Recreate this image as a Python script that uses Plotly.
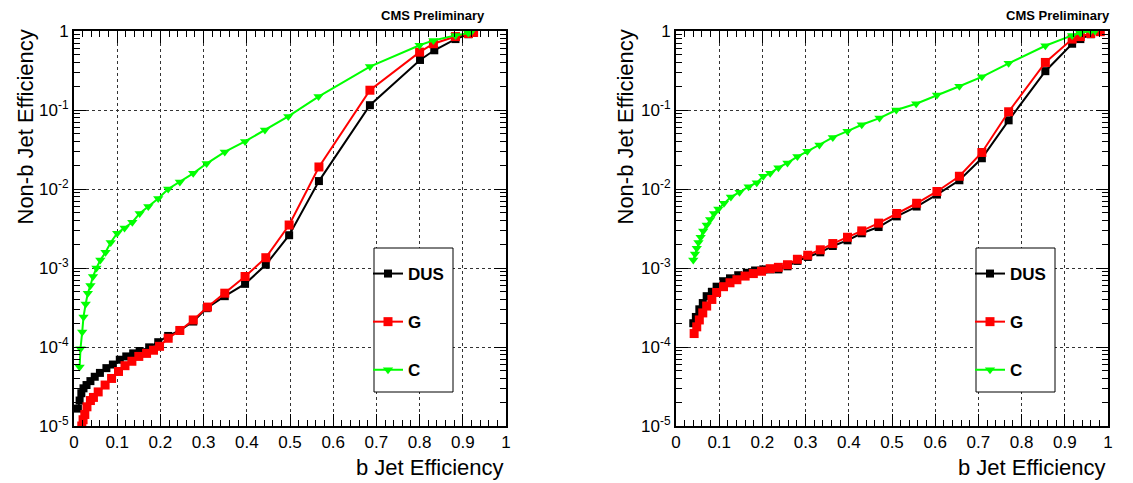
import plotly.graph_objects as go

# ---------------- data: left panel ----------------
L_dus_x = [0.009, 0.013, 0.017, 0.022, 0.029, 0.038, 0.048, 0.060, 0.075, 0.090, 0.106, 0.121, 0.137, 0.152, 0.174, 0.195,
           0.218, 0.245, 0.276, 0.307, 0.349, 0.396, 0.444, 0.498, 0.567, 0.685, 0.801, 0.834, 0.883, 0.913, 0.925]
L_dus_y = [1.66e-5, 2.1e-5, 2.6e-5, 3.0e-5, 3.3e-5, 3.7e-5, 4.2e-5, 4.7e-5, 5.4e-5, 6.0e-5, 6.9e-5, 7.6e-5, 8.3e-5, 8.9e-5, 9.9e-5, 1.15e-4,
           1.38e-4, 1.62e-4, 2.1e-4, 3.1e-4, 4.4e-4, 6.3e-4, 1.1e-3, 2.6e-3, 1.26e-2, 0.115, 0.43, 0.57, 0.79, 0.91, 0.95]
L_g_x = [0.018, 0.021, 0.025, 0.030, 0.038, 0.045, 0.056, 0.072, 0.087, 0.103, 0.118, 0.134, 0.150, 0.168, 0.184, 0.198,
         0.218, 0.245, 0.276, 0.309, 0.349, 0.396, 0.444, 0.498, 0.567, 0.685, 0.800, 0.832, 0.883, 0.913, 0.925]
L_g_y = [1.0e-5, 1.2e-5, 1.4e-5, 1.75e-5, 2.1e-5, 2.3e-5, 2.7e-5, 3.3e-5, 4.0e-5, 4.9e-5, 5.8e-5, 6.6e-5, 7.6e-5, 8.3e-5, 9.1e-5, 1.02e-4,
         1.29e-4, 1.62e-4, 2.2e-4, 3.2e-4, 4.8e-4, 7.8e-4, 1.35e-3, 3.5e-3, 1.9e-2, 0.178, 0.54, 0.69, 0.85, 0.93, 0.96]
L_c_x = [0.013, 0.015, 0.019, 0.022, 0.027, 0.032, 0.038, 0.044, 0.052, 0.061, 0.073, 0.085, 0.100, 0.117, 0.135, 0.152,
         0.172, 0.195, 0.218, 0.245, 0.276, 0.307, 0.349, 0.396, 0.442, 0.496, 0.566, 0.685, 0.800, 0.832, 0.883, 0.913, 0.920]
L_c_y = [5.6e-5, 9.5e-5, 1.55e-4, 2.4e-4, 3.5e-4, 4.8e-4, 6.0e-4, 7.8e-4, 1.0e-3, 1.26e-3, 1.58e-3, 2.1e-3, 2.75e-3, 3.2e-3, 3.8e-3, 4.9e-3,
         6.0e-3, 7.6e-3, 1.0e-2, 1.23e-2, 1.58e-2, 2.1e-2, 2.95e-2, 4.0e-2, 5.6e-2, 8.3e-2, 0.148, 0.355, 0.66, 0.76, 0.88, 0.94, 0.98]

# ---------------- data: right panel ----------------
R_dus_x = [0.040, 0.046, 0.054, 0.062, 0.071, 0.083, 0.094, 0.110, 0.125, 0.144, 0.164, 0.183, 0.202, 0.218, 0.237, 0.258,
           0.281, 0.305, 0.334, 0.363, 0.397, 0.430, 0.469, 0.511, 0.557, 0.604, 0.656, 0.708, 0.770, 0.855, 0.917, 0.936, 0.960, 0.982]
R_dus_y = [2.0e-4, 2.4e-4, 3.0e-4, 3.6e-4, 4.4e-4, 5.0e-4, 5.8e-4, 6.8e-4, 7.4e-4, 8.1e-4, 8.7e-4, 9.3e-4, 9.6e-4, 9.6e-4, 9.6e-4, 1.05e-3,
           1.23e-3, 1.38e-3, 1.58e-3, 1.9e-3, 2.24e-3, 2.75e-3, 3.3e-3, 4.5e-3, 6.0e-3, 8.5e-3, 1.29e-2, 2.45e-2, 7.4e-2, 0.31, 0.69, 0.79, 0.91, 0.98]
R_g_x = [0.042, 0.048, 0.054, 0.062, 0.071, 0.083, 0.094, 0.110, 0.125, 0.141, 0.160, 0.179, 0.198, 0.218, 0.237, 0.258,
         0.281, 0.305, 0.334, 0.363, 0.397, 0.430, 0.469, 0.511, 0.557, 0.604, 0.656, 0.708, 0.770, 0.855, 0.917, 0.936, 0.960, 0.982]
R_g_y = [1.48e-4, 1.8e-4, 2.2e-4, 2.7e-4, 3.3e-4, 4.0e-4, 4.9e-4, 5.8e-4, 6.5e-4, 7.1e-4, 7.9e-4, 8.5e-4, 9.1e-4, 9.8e-4, 1.02e-3, 1.1e-3,
         1.29e-3, 1.45e-3, 1.7e-3, 2.04e-3, 2.45e-3, 2.95e-3, 3.7e-3, 4.9e-3, 6.6e-3, 9.3e-3, 1.45e-2, 2.9e-2, 9.5e-2, 0.40, 0.79, 0.85, 0.93, 0.98]
R_c_x = [0.040, 0.044, 0.048, 0.052, 0.057, 0.063, 0.071, 0.079, 0.088, 0.098, 0.111, 0.127, 0.147, 0.168, 0.187, 0.202,
         0.218, 0.237, 0.258, 0.281, 0.304, 0.332, 0.363, 0.397, 0.430, 0.471, 0.510, 0.556, 0.604, 0.656, 0.708, 0.770, 0.855, 0.917, 0.936, 0.960, 0.970]
R_c_y = [1.26e-3, 1.5e-3, 1.78e-3, 2.1e-3, 2.45e-3, 2.95e-3, 3.5e-3, 4.1e-3, 4.9e-3, 5.6e-3, 6.6e-3, 7.9e-3, 9.1e-3, 1.07e-2, 1.2e-2, 1.45e-2,
         1.58e-2, 1.86e-2, 2.14e-2, 2.57e-2, 3.0e-2, 3.6e-2, 4.5e-2, 5.4e-2, 6.5e-2, 7.9e-2, 0.10, 0.12, 0.155, 0.20, 0.263, 0.39, 0.65, 0.88, 0.94, 1.0, 1.0]

x_tickvals = [0, 0.1, 0.2, 0.3, 0.4, 0.5, 0.6, 0.7, 0.8, 0.9, 1]
x_ticktext = ["0", "0.1", "0.2", "0.3", "0.4", "0.5", "0.6", "0.7", "0.8", "0.9", "1"]
y_tickvals = [1e-5, 1e-4, 1e-3, 1e-2, 1e-1, 1]
y_ticktext = ["10<sup>-5</sup>", "10<sup>-4</sup>", "10<sup>-3</sup>", "10<sup>-2</sup>", "10<sup>-1</sup>", "1"]
series_names = ["DUS", "G", "C"]
colors = ["black", "#ff0000", "#00ff00"]
symbols = ["square", "square", "triangle-down"]
msizes = [8, 9, 9]

W, H = 1133, 483
FONT = "Liberation Sans, Arial, sans-serif"

y_minor = [m * 10.0 ** e for e in range(-5, 0) for m in range(2, 10)]

fig = go.Figure()
panels = [
    ("x", "y", "legend", [(L_dus_x, L_dus_y), (L_g_x, L_g_y), (L_c_x, L_c_y)]),
    ("x2", "y2", "legend2", [(R_dus_x, R_dus_y), (R_g_x, R_g_y), (R_c_x, R_c_y)]),
]
for xa, ya, leg, series in panels:
    for i, (xs, ys) in enumerate(series):
        fig.add_trace(go.Scatter(
            x=xs, y=ys, xaxis=xa, yaxis=ya, mode="lines+markers",
            name=series_names[i], legend=leg, legendgroup=leg + series_names[i],
            line=dict(color=colors[i], width=2),
            marker=dict(symbol=symbols[i], size=msizes[i], color=colors[i], line=dict(width=0)),
        ))

def xaxis(domain, anchor):
    return dict(domain=domain, anchor=anchor, range=[0, 1], tickvals=x_tickvals, ticktext=x_ticktext,
                ticks="inside", ticklen=12, tickwidth=1, tickcolor="black", mirror="ticks",
                showline=True, linecolor="black", linewidth=2, automargin=False,
                showgrid=True, gridcolor="#333333", griddash="dot", gridwidth=1,
                minor=dict(ticks="inside", ticklen=6, dtick=0.02, tick0=0, tickcolor="black", showgrid=False),
                tickfont=dict(family=FONT, size=17, color="black"), zeroline=False)

def yaxis(domain, anchor):
    return dict(domain=domain, anchor=anchor, type="log", range=[-5, 0], tickvals=y_tickvals, ticktext=y_ticktext,
                ticks="inside", ticklen=12, tickwidth=1, tickcolor="black", mirror="ticks",
                showline=True, linecolor="black", linewidth=2, automargin=False,
                showgrid=True, gridcolor="#333333", griddash="dot", gridwidth=1,
                minor=dict(ticks="inside", ticklen=6, tickmode="array", tickvals=y_minor,
                           tickcolor="black", showgrid=False),
                tickfont=dict(family=FONT, size=17, color="black"), zeroline=False)

ydom = [1 - 426 / H, 1 - 31 / H]
legend_common = dict(yanchor="top", xanchor="left", bgcolor="rgba(0,0,0,0)", borderwidth=0,
                     tracegroupgap=23, traceorder="grouped", itemwidth=30,
                     font=dict(family=FONT, size=17, color="black", weight="bold"))
fig.update_layout(
    width=W, height=H, margin=dict(l=0, r=0, t=0, b=0, autoexpand=False),
    paper_bgcolor="white", plot_bgcolor="white",
    xaxis=xaxis([74 / W, 506 / W], "y"), yaxis=yaxis(ydom, "x"),
    xaxis2=xaxis([676 / W, 1108 / W], "y2"), yaxis2=yaxis(ydom, "x2"),
    legend=dict(x=368 / W, y=1 - 256 / H, **legend_common),
    legend2=dict(x=970 / W, y=1 - 256 / H, **legend_common),
    showlegend=True,
)

# legend frames
for bx in [374, 976]:
    fig.add_shape(type="rect", xref="paper", yref="paper", layer="above",
                  x0=bx / W, x1=(bx + 79) / W, y0=1 - 392 / H, y1=1 - 248 / H,
                  fillcolor="white", line=dict(color="black", width=1))

for xr, xl, cms in [(506, 25, 487), (1108, 625, 1112)]:
    fig.add_annotation(xref="paper", yref="paper", x=xr / W, y=1 - 467 / H, xanchor="right", yanchor="middle",
                       text="b Jet Efficiency", showarrow=False, font=dict(family=FONT, size=22, color="black"))
    fig.add_annotation(xref="paper", yref="paper", x=xl / W, y=1 - 28 / H, xanchor="center", yanchor="top",
                       textangle=-90, text="Non-b Jet Efficiency", showarrow=False,
                       font=dict(family=FONT, size=22, color="black"))
    fig.add_annotation(xref="paper", yref="paper", x=cms / W, y=1 - 16 / H, xanchor="right", yanchor="middle",
                       text="<b>CMS Preliminary</b>", showarrow=False, font=dict(family=FONT, size=13, color="black"))

fig.write_html("out.html", config={"displayModeBar": False},
               post_script="document.body.style.margin='0';document.body.style.overflow='hidden';")
